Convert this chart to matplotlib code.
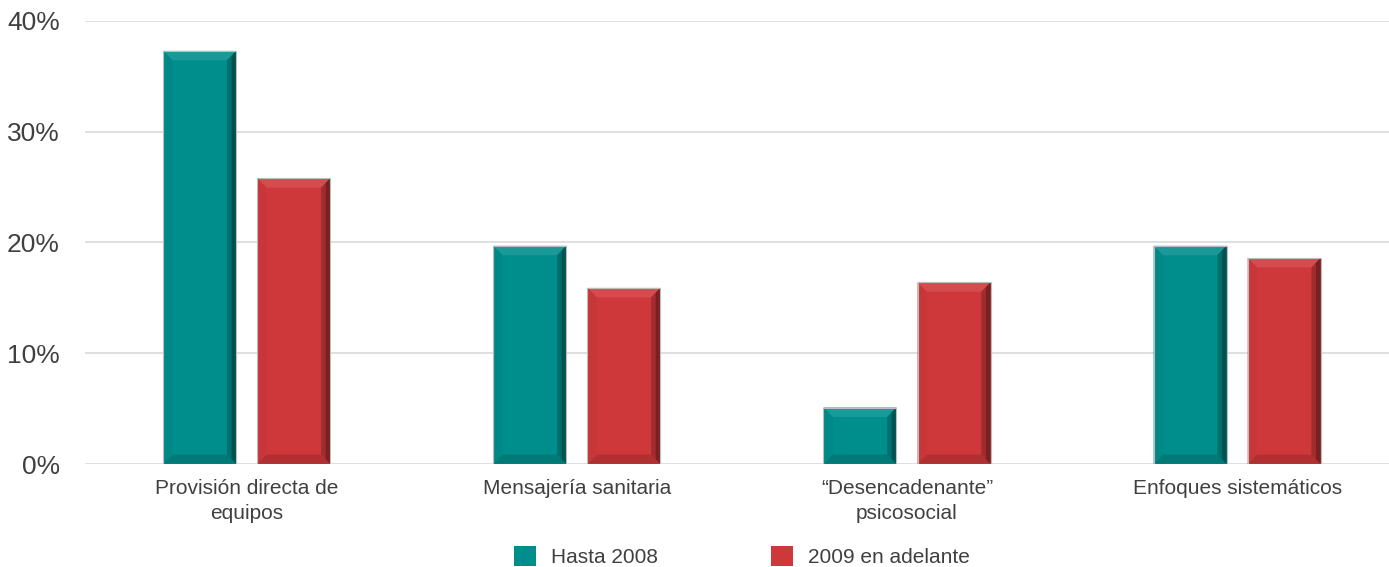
import matplotlib
matplotlib.use("Agg")
import matplotlib.pyplot as plt
from matplotlib.patches import Polygon, Patch
from matplotlib.colors import to_rgb
import numpy as np

categories = ["Provisión directa de\nequipos", "Mensajería sanitaria",
              "“Desencadenante”\npsicosocial", "Enfoques sistemáticos"]
hasta_2008 = [37.3, 19.7, 5.1, 19.7]
desde_2009 = [25.8, 15.9, 16.4, 18.6]
series_names = ["Hasta 2008", "2009 en adelante"]
yticks = [0, 10, 20, 30, 40]

teal = "#008e8c"
red = "#cf383b"
text_color = "#404040"

plt.rcParams['font.family'] = ['Liberation Sans', 'DejaVu Sans']

fig = plt.figure(figsize=(13.89, 5.67), dpi=100)
ax = fig.add_axes([85/1389, 1-464/567, 1-85/1389, (464-21)/567])

x = np.arange(len(categories))
w = 0.221
off = 0.1425

def blend(c, t, amt):
    c = np.array(to_rgb(c)); t = np.array(to_rgb(t))
    return tuple(c*(1-amt) + t*amt)

def bevel(ax, bars, color):
    bx = 0.028
    by = 0.85
    for b in bars:
        x0 = b.get_x(); x1 = x0 + b.get_width()
        y0 = 0; y1 = b.get_height()
        byy = min(by, y1/3)
        # top
        ax.add_patch(Polygon([(x0, y1), (x1, y1), (x1-bx, y1-byy), (x0+bx, y1-byy)],
                             closed=True, facecolor=blend(color, "white", 0.10), edgecolor='none', zorder=3))
        # bottom
        ax.add_patch(Polygon([(x0, y0), (x1, y0), (x1-bx, y0+byy), (x0+bx, y0+byy)],
                             closed=True, facecolor=blend(color, "black", 0.15), edgecolor='none', zorder=3))
        # left
        ax.add_patch(Polygon([(x0, y0), (x0, y1), (x0+bx, y1-byy), (x0+bx, y0+byy)],
                             closed=True, facecolor=blend(color, "black", 0.04), edgecolor='none', zorder=3))
        # right (two-step gradient)
        ax.add_patch(Polygon([(x1, y0), (x1, y1), (x1-bx, y1-byy), (x1-bx, y0+byy)],
                             closed=True, facecolor=blend(color, "black", 0.22), edgecolor='none', zorder=3))
        ax.add_patch(Polygon([(x1, y0), (x1, y1), (x1-bx/2, y1-byy/2), (x1-bx/2, y0+byy/2)],
                             closed=True, facecolor=blend(color, "black", 0.42), edgecolor='none', zorder=3))
        ax.add_patch(Polygon([(x0, y0), (x0, y1), (x1, y1), (x1, y0)], closed=True,
                             facecolor='none', edgecolor='#bdbdbd', linewidth=0.8, zorder=4))

b1 = ax.bar(x - off, hasta_2008, w, color=teal, zorder=2)
b2 = ax.bar(x + off, desde_2009, w, color=red, zorder=2)
bevel(ax, b1, teal)
bevel(ax, b2, red)

ax.set_xlim(-0.49, 3.46)
ax.set_ylim(0, 40)
ax.set_yticks(yticks)
ax.set_yticklabels([f"{v}%" for v in yticks], fontsize=19, color=text_color)
ax.set_xticks(x)
ax.set_xticklabels(categories, fontsize=15, color=text_color, linespacing=1.38)
ax.tick_params(axis='both', length=0)
ax.tick_params(axis='y', pad=18)
ax.tick_params(axis='x', pad=11)
for s in ax.spines.values():
    s.set_visible(False)
ax.grid(axis='y', color='#d9d9d9', linewidth=1.2, zorder=0)
ax.set_axisbelow(True)

handles = [Patch(facecolor=teal, edgecolor='none'), Patch(facecolor=red, edgecolor='none')]
fig.legend(handles, series_names, loc='center', bbox_to_anchor=(0.534, 0.018), ncol=2,
           frameon=False, fontsize=15, handlelength=1.1, handleheight=1.1,
           handletextpad=0.7, columnspacing=5.4, labelcolor=text_color)

fig.savefig("out.png", dpi=100)
